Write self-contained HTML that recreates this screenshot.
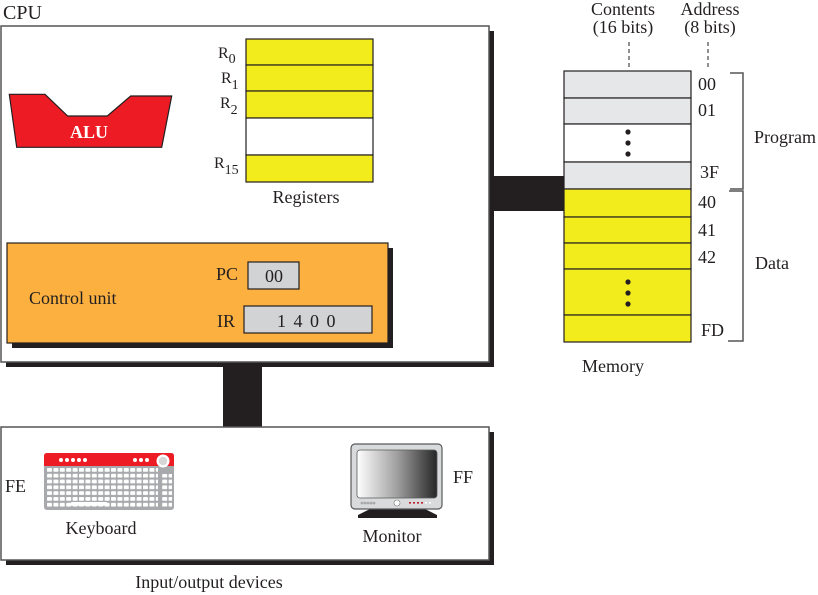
<!DOCTYPE html>
<html><head><meta charset="utf-8">
<style>
html,body{margin:0;padding:0;background:#fff;}
svg{display:block;}
text{font-family:"Liberation Serif","Times New Roman",serif;fill:#231F20;}
</style></head>
<body>
<svg width="818" height="595" viewBox="0 0 818 595" xmlns="http://www.w3.org/2000/svg">
<defs>
<linearGradient id="scr" x1="0" y1="0" x2="1" y2="0">
<stop offset="0" stop-color="#ffffff"/>
<stop offset="0.5" stop-color="#a0a0a0"/>
<stop offset="1" stop-color="#262626"/>
</linearGradient>
<pattern id="keys" x="47" y="468" width="6.4" height="5.8" patternUnits="userSpaceOnUse">
<rect x="0" y="0" width="5" height="3.8" rx="0.8" fill="#fff"/>
</pattern>
</defs>

<!-- CPU label -->
<text x="3" y="19" font-size="20">CPU</text>

<!-- CPU box with shadow -->
<rect x="6" y="31" width="488" height="336" fill="#231F20"/>
<rect x="1" y="26" width="488" height="336" fill="#fff" stroke="#555" stroke-width="1.5"/>

<!-- ALU -->
<polygon points="9.3,94.3 45,94.3 67.7,116 107.3,116 130.7,96 171.7,96 161.7,147.3 16.7,147.3" fill="#ED1C24" stroke="#231F20" stroke-width="1.2"/>
<text x="89" y="138" font-size="18" font-weight="bold" text-anchor="middle" style="fill:#fff">ALU</text>

<!-- Registers -->
<rect x="246" y="39" width="127" height="26" fill="#F3EC1C" stroke="#231F20" stroke-width="1.2"/>
<rect x="246" y="65" width="127" height="26" fill="#F3EC1C" stroke="#231F20" stroke-width="1.2"/>
<rect x="246" y="91" width="127" height="27" fill="#F3EC1C" stroke="#231F20" stroke-width="1.2"/>
<rect x="246" y="118" width="127" height="37" fill="#fff" stroke="#231F20" stroke-width="1.2"/>
<rect x="246" y="155" width="127" height="27" fill="#F3EC1C" stroke="#231F20" stroke-width="1.2"/>
<text x="218" y="58" font-size="16">R<tspan font-size="14" dy="5">0</tspan></text>
<text x="221" y="83" font-size="16">R<tspan font-size="14" dy="6">1</tspan></text>
<text x="220" y="108" font-size="16">R<tspan font-size="14" dy="6">2</tspan></text>
<text x="214" y="168" font-size="16">R<tspan font-size="14" dy="6">15</tspan></text>
<text x="306" y="203" font-size="18" text-anchor="middle">Registers</text>

<!-- Control unit -->
<rect x="12" y="248" width="381" height="100" fill="#231F20"/>
<rect x="7" y="243" width="381" height="100" fill="#FBB040" stroke="#231F20" stroke-width="1.2"/>
<text x="29" y="304" font-size="18">Control unit</text>
<text x="216" y="280" font-size="18">PC</text>
<rect x="248" y="262" width="51" height="27" fill="#D1D3D4" stroke="#231F20" stroke-width="1.2"/>
<text x="274" y="282" font-size="18" text-anchor="middle">00</text>
<text x="217" y="327" font-size="18">IR</text>
<rect x="244" y="306" width="128" height="27" fill="#D1D3D4" stroke="#231F20" stroke-width="1.2"/>
<text x="307" y="327" font-size="18" text-anchor="middle" letter-spacing="1.5">1 4 0 0</text>

<!-- Buses -->
<rect x="494" y="176" width="70" height="35" fill="#231F20"/>
<rect x="223" y="366" width="39" height="62" fill="#231F20"/>

<!-- Memory -->
<text x="623" y="15" font-size="18" text-anchor="middle">Contents</text>
<text x="623" y="33" font-size="18" text-anchor="middle">(16 bits)</text>
<text x="710" y="15" font-size="18" text-anchor="middle">Address</text>
<text x="710" y="33" font-size="18" text-anchor="middle">(8 bits)</text>
<line x1="629" y1="42" x2="629" y2="69" stroke="#231F20" stroke-width="1" stroke-dasharray="4,3"/>
<line x1="708" y1="42" x2="708" y2="69" stroke="#231F20" stroke-width="1" stroke-dasharray="4,3"/>

<rect x="564" y="71" width="127" height="27" fill="#E6E7E8" stroke="#231F20" stroke-width="1.2"/>
<rect x="564" y="98" width="127" height="26" fill="#E6E7E8" stroke="#231F20" stroke-width="1.2"/>
<rect x="564" y="124" width="127" height="38" fill="#fff" stroke="#231F20" stroke-width="1.2"/>
<rect x="564" y="162" width="127" height="27" fill="#E6E7E8" stroke="#231F20" stroke-width="1.2"/>
<rect x="564" y="189" width="127" height="28" fill="#F3EC1C" stroke="#231F20" stroke-width="1.2"/>
<rect x="564" y="217" width="127" height="26" fill="#F3EC1C" stroke="#231F20" stroke-width="1.2"/>
<rect x="564" y="243" width="127" height="26" fill="#F3EC1C" stroke="#231F20" stroke-width="1.2"/>
<rect x="564" y="269" width="127" height="46" fill="#F3EC1C" stroke="#231F20" stroke-width="1.2"/>
<rect x="564" y="315" width="127" height="27" fill="#F3EC1C" stroke="#231F20" stroke-width="1.2"/>
<circle cx="628" cy="132" r="2.6" fill="#231F20"/>
<circle cx="628" cy="143" r="2.6" fill="#231F20"/>
<circle cx="628" cy="154" r="2.6" fill="#231F20"/>
<circle cx="628" cy="282" r="2.6" fill="#231F20"/>
<circle cx="628" cy="293" r="2.6" fill="#231F20"/>
<circle cx="628" cy="304" r="2.6" fill="#231F20"/>

<text x="698" y="90" font-size="18">00</text>
<text x="698" y="116" font-size="18">01</text>
<text x="700" y="178" font-size="18">3F</text>
<text x="698" y="208" font-size="18">40</text>
<text x="698" y="236" font-size="18">41</text>
<text x="698" y="263" font-size="18">42</text>
<text x="701" y="336" font-size="18">FD</text>

<polyline points="730,73 743,73 743,189 730,189" fill="none" stroke="#555" stroke-width="1.5"/>
<polyline points="729,191 743,191 743,341 728,341" fill="none" stroke="#555" stroke-width="1.5"/>
<text x="754" y="143" font-size="18">Program</text>
<text x="755" y="269" font-size="18">Data</text>
<text x="613" y="372" font-size="18" text-anchor="middle">Memory</text>

<!-- I/O box -->
<rect x="6" y="432" width="488" height="133" fill="#231F20"/>
<rect x="1" y="427" width="488" height="133" fill="#fff" stroke="#555" stroke-width="1.5"/>
<text x="209" y="588" font-size="18" text-anchor="middle">Input/output devices</text>

<!-- Keyboard -->
<rect x="44" y="453" width="130" height="57" rx="3" fill="#A7A9AC"/>
<path d="M44,466 L44,456 Q44,453 47,453 L171,453 Q174,453 174,456 L174,466 Z" fill="#ED1C24"/>
<g fill="#fff">
<circle cx="61" cy="460" r="2"/><circle cx="67" cy="460" r="2"/><circle cx="73" cy="460" r="2"/><circle cx="79" cy="460" r="2"/><circle cx="85" cy="460" r="2"/>
<circle cx="135" cy="460" r="2"/><circle cx="141" cy="460" r="2"/><circle cx="147" cy="460" r="2"/>
<circle cx="163" cy="461" r="6.5"/>
</g>
<circle cx="163" cy="461" r="4.2" fill="#d6d6d6"/>
<rect x="47" y="468" width="111" height="39" fill="url(#keys)"/>
<rect x="161" y="474" width="11" height="33" fill="url(#keys)"/>
<rect x="71" y="502" width="36" height="3.8" rx="0.8" fill="#fff"/>

<!-- Monitor -->
<path d="M374,507 L421,507 L437,515 L437,518 L358,518 L358,515 Z" fill="#231F20"/>
<rect x="351" y="444" width="91" height="65" rx="4" fill="#D9DADB" stroke="#58595B" stroke-width="1.2"/>
<rect x="357" y="450" width="80" height="48" rx="3" fill="url(#scr)" stroke="#58595B" stroke-width="0.8"/>
<circle cx="397" cy="503" r="3" fill="#fff" stroke="#777" stroke-width="0.6"/>
<g fill="none" stroke="#888" stroke-width="0.6">
<circle cx="362" cy="503" r="1"/><circle cx="365" cy="503" r="1"/><circle cx="368" cy="503" r="1"/><circle cx="371" cy="503" r="1"/><circle cx="374" cy="503" r="1"/>
</g>
<g fill="#BE1E2D">
<rect x="409" y="502" width="2" height="1.6"/><rect x="413" y="502" width="2" height="1.6"/><rect x="417" y="502" width="2" height="1.6"/><rect x="421" y="502" width="2" height="1.6"/>
</g>
<rect x="425" y="502" width="2" height="1.6" fill="#fff"/><rect x="429" y="502" width="2" height="1.6" fill="#fff"/>

<text x="5" y="492" font-size="18">FE</text>
<text x="101" y="534" font-size="18" text-anchor="middle">Keyboard</text>
<text x="453" y="483" font-size="18">FF</text>
<text x="392" y="542" font-size="18" text-anchor="middle">Monitor</text>
</svg>
</body></html>
